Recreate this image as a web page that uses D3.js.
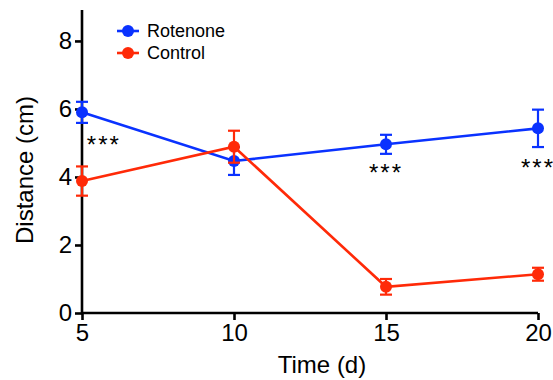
<!DOCTYPE html>
<html>
<head>
<meta charset="utf-8">
<script src="https://cdn.jsdelivr.net/npm/d3@7"></script>
<style>
  body { margin: 0; background: #fff; }
  svg { display: block; font-family: "Liberation Sans", Arial, sans-serif; }
</style>
</head>
<body>
<svg id="chart" width="553" height="380"></svg>
<script>
// data
const times = [5, 10, 15, 20];
const rotenoneMean = [5.9, 4.47, 4.96, 5.43];
const rotenoneErr = [0.31, 0.41, 0.28, 0.55];
const controlMean = [3.88, 4.89, 0.77, 1.14];
const controlErr = [0.43, 0.47, 0.23, 0.19];
const yTicks = [0, 2, 4, 6, 8];
const xTicks = [5, 10, 15, 20];
// significance marks (time, height of the mark)
const starTimes = [5.72, 15, 20];
const starValues = [5.1, 4.27, 4.42];

const blue = "#0a32ff";
const red = "#ff2a08";

const svg = d3.select("#chart");
const margin = { left: 82, right: 15, top: 10, bottom: 67 };
const width = 553, height = 380;

const x = d3.scaleLinear().domain([5, 20]).range([margin.left, width - margin.right]);
const y = d3.scaleLinear().domain([0, 8.91]).range([height - margin.bottom, margin.top]);

const series = [
    { name: "Rotenone", color: blue, mean: rotenoneMean, err: rotenoneErr },
    { name: "Control", color: red, mean: controlMean, err: controlErr }
];

// axes
const xAxis = svg.append("g")
    .attr("transform", `translate(0,${y(0)})`)
    .call(d3.axisBottom(x).tickValues(xTicks).tickSize(7).tickPadding(4).tickFormat(d3.format("d")));
const yAxis = svg.append("g")
    .attr("transform", `translate(${x(5)},0)`)
    .call(d3.axisLeft(y).tickValues(yTicks).tickSize(7).tickPadding(3).tickFormat(d3.format("d")));

[xAxis, yAxis].forEach(ax => {
    ax.select(".domain").attr("stroke", "#000").attr("stroke-width", 2.6);
    ax.selectAll(".tick line").attr("stroke", "#000").attr("stroke-width", 2.6);
    ax.selectAll(".tick text").attr("font-size", 24).attr("fill", "#000")
        .attr("font-family", "Liberation Sans, Arial, sans-serif");
});
// remove the outer ticks of d3 domain path
xAxis.select(".domain").attr("d", `M${x(5)},0H${x(20)}`);
yAxis.select(".domain").attr("d", `M0,${y(0) + 1.3}V${margin.top}`);

// titles
svg.append("text")
    .attr("x", (x(5) + x(20)) / 2 + 12)
    .attr("y", 373)
    .attr("text-anchor", "middle")
    .attr("font-size", 24)
    .text("Time (d)");
svg.append("text")
    .attr("transform", `translate(33,170) rotate(-90)`)
    .attr("text-anchor", "middle")
    .attr("font-size", 24)
    .text("Distance (cm)");

const line = d3.line().x((d, i) => x(times[i])).y(d => y(d));

series.forEach(s => {
    const g = svg.append("g");
    g.append("path")
        .datum(s.mean)
        .attr("d", line)
        .attr("fill", "none")
        .attr("stroke", s.color)
        .attr("stroke-width", 2.6);

    const eb = g.selectAll(".eb")
        .data(s.mean.map((m, i) => ({ t: times[i], m: m, e: s.err[i] })))
        .enter().append("g");
    eb.append("line")
        .attr("x1", d => x(d.t)).attr("x2", d => x(d.t))
        .attr("y1", d => y(d.m + d.e)).attr("y2", d => y(d.m - d.e))
        .attr("stroke", s.color).attr("stroke-width", 2.2);
    [1, -1].forEach(sign => {
        eb.append("line")
            .attr("x1", d => x(d.t) - 6).attr("x2", d => x(d.t) + 6)
            .attr("y1", d => y(d.m + sign * d.e)).attr("y2", d => y(d.m + sign * d.e))
            .attr("stroke", s.color).attr("stroke-width", 2.2);
    });
    eb.append("circle")
        .attr("cx", d => x(d.t)).attr("cy", d => y(d.m))
        .attr("r", 6)
        .attr("fill", s.color);
});

// stars
svg.selectAll(".star")
    .data(starTimes.map((t, i) => ({ t: t, v: starValues[i] })))
    .enter().append("text")
    .attr("x", d => x(d.t))
    .attr("y", d => y(d.v))
    .attr("dy", 13)
    .attr("text-anchor", "middle")
    .attr("font-size", 24)
    .attr("letter-spacing", 2)
    .text("***");

// legend
const legend = svg.append("g");
series.forEach((s, i) => {
    const ly = 31 + i * 22;
    legend.append("line")
        .attr("x1", 117).attr("x2", 139).attr("y1", ly).attr("y2", ly)
        .attr("stroke", s.color).attr("stroke-width", 2.6);
    legend.append("circle")
        .attr("cx", 128).attr("cy", ly).attr("r", 6).attr("fill", s.color);
    legend.append("text")
        .attr("x", 147).attr("y", ly)
        .attr("dy", "0.35em")
        .attr("font-size", 18)
        .text(s.name);
});
</script>
</body>
</html>
